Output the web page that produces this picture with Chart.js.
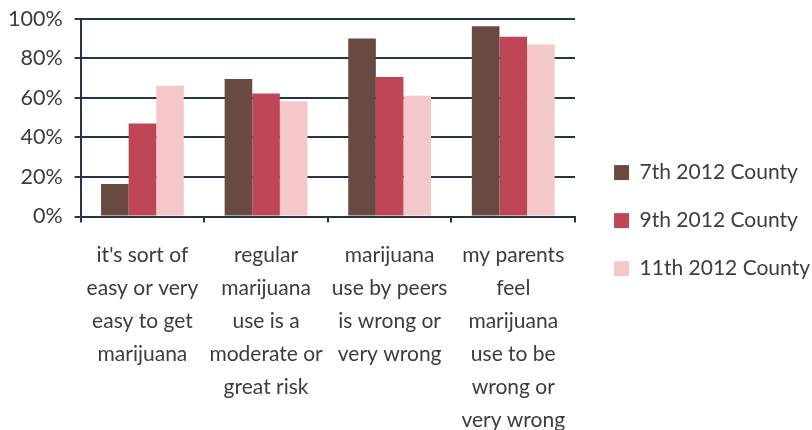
<!DOCTYPE html>
<html>
<head>
<meta charset="utf-8">
<script src="https://cdn.jsdelivr.net/npm/chart.js@4.4.1/dist/chart.umd.min.js"></script>
<style>
  html, body { margin: 0; padding: 0; background: #fff; }
  #wrap { width: 812px; height: 430px; }
</style>
</head>
<body>
<div id="wrap"><canvas id="surveyChart" width="812" height="430"></canvas></div>
<script>
const categories = [
  ["it's sort of", 'easy or very', 'easy to get', 'marijuana'],
  ['regular', 'marijuana', 'use is a', 'moderate or', 'great risk'],
  ['marijuana', 'use by peers', 'is wrong or', 'very wrong'],
  ['my parents', 'feel', 'marijuana', 'use to be', 'wrong or', 'very wrong'],
];
const seriesNames = ['7th 2012 County', '9th 2012 County', '11th 2012 County'];
const grade7 = [16.5, 69.6, 90.1, 96.3];
const grade9 = [47.1, 62.3, 70.6, 91];
const grade11 = [66.2, 58.3, 61.1, 87];
const yTicks = [0, 20, 40, 60, 80, 100];

const barColors = ['#684a40', '#bf4656', '#f4c8c9'];
const axisColor = '#24354a';
const textColor = '#3c3c3c';
const fontFamily = 'Lato, "Open Sans", sans-serif';

Chart.defaults.font.family = fontFamily;
Chart.defaults.color = textColor;

const datasets = [grade7, grade9, grade11].map((values, i) => ({
  label: seriesNames[i],
  data: values,
  backgroundColor: barColors[i],
  borderWidth: 0,
  categoryPercentage: 0.67,
  barPercentage: 1,
}));

new Chart(document.getElementById('surveyChart'), {
  type: 'bar',
  data: { labels: categories, datasets },
  options: {
    responsive: false,
    animation: false,
    layout: { padding: { left: 2, top: 1, right: -8, bottom: -2 } },
    plugins: {
      tooltip: { enabled: false },
      legend: {
        position: 'right',
        maxWidth: 300,
        // blank title, only there to nudge the rows down a few pixels
        title: { display: true, text: '', padding: 3.5, font: { size: 1 } },
        labels: {
          boxWidth: 15,
          boxHeight: 15,
          padding: 27,
          color: textColor,
          font: { size: 21 },
        },
      },
    },
    scales: {
      x: {
        offset: true,
        grid: {
          drawOnChartArea: false,
          drawTicks: true,
          tickLength: 6,
          color: axisColor,
          lineWidth: 2,
        },
        border: { color: axisColor, width: 2 },
        ticks: {
          autoSkip: false,
          maxRotation: 0,
          minRotation: 0,
          padding: 16,
          color: textColor,
          font: { size: 21, lineHeight: '33px' },
        },
      },
      y: {
        min: 0,
        max: 100,
        afterBuildTicks: (scale) => {
          scale.ticks = yTicks.map((v) => ({ value: v }));
        },
        grid: {
          color: axisColor,
          lineWidth: 2,
          // long tick slot, but only the 6px next to the axis is stroked
          tickLength: 12,
          tickBorderDash: [0, 6, 6],
        },
        border: { color: axisColor, width: 2 },
        ticks: {
          padding: 6,
          color: textColor,
          font: { size: 21.5 },
          callback: (v) => v + '%',
        },
      },
      // spacer between plot and legend
      gap: {
        position: 'right',
        display: true,
        grid: { display: false },
        border: { display: false },
        ticks: { display: false },
        afterFit: (scale) => { scale.width = 12; },
      },
    },
  },
});
</script>
</body>
</html>
